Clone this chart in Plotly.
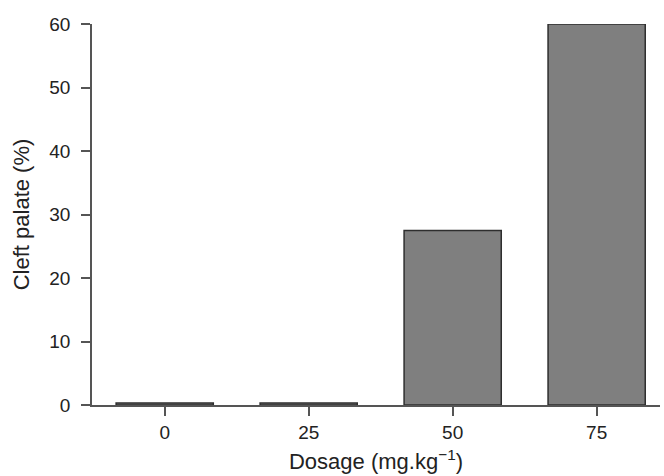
import plotly.graph_objects as go

dosage = ["0", "25", "50", "75"]
cleft_palate = [0.3, 0.3, 27.5, 60]

fig = go.Figure(
    go.Bar(
        x=dosage,
        y=cleft_palate,
        width=0.675,
        marker=dict(color="#7f7f7f", line=dict(color="#2e2e2e", width=1.5)),
    )
)

axis_font = dict(family="Liberation Sans, Arial, sans-serif", size=19, color="#222222")

fig.update_layout(
    width=664,
    height=476,
    margin=dict(l=92, r=4, t=24, b=71, autoexpand=False),
    paper_bgcolor="white",
    plot_bgcolor="white",
    showlegend=False,
    font=axis_font,
    xaxis=dict(
        type="category",
        range=[-0.505, 3.44],
        automargin=False,
        showline=True,
        linecolor="#555555",
        linewidth=1.5,
        ticks="outside",
        ticklen=9,
        tickcolor="#555555",
        tickwidth=1.5,
        showgrid=False,
        zeroline=False,
        title=dict(text="Dosage (mg.kg<sup>−1</sup>)", font=dict(size=22), standoff=12),
    ),
    yaxis=dict(
        range=[0, 60],
        tickvals=[0, 10, 20, 30, 40, 50, 60],
        automargin=False,
        showline=True,
        linecolor="#555555",
        linewidth=1.5,
        ticks="outside",
        ticklen=9,
        tickcolor="#555555",
        tickwidth=1.5,
        ticklabelstandoff=7,
        showgrid=False,
        zeroline=False,
        title=dict(text="Cleft palate (%)", font=dict(size=22), standoff=14),
    ),
)

# page has a default 8px body margin; drop it so the figure sits at 0,0
fig.write_html(
    "out.html",
    config={"displayModeBar": False},
    post_script="document.body.style.margin='0';",
)
